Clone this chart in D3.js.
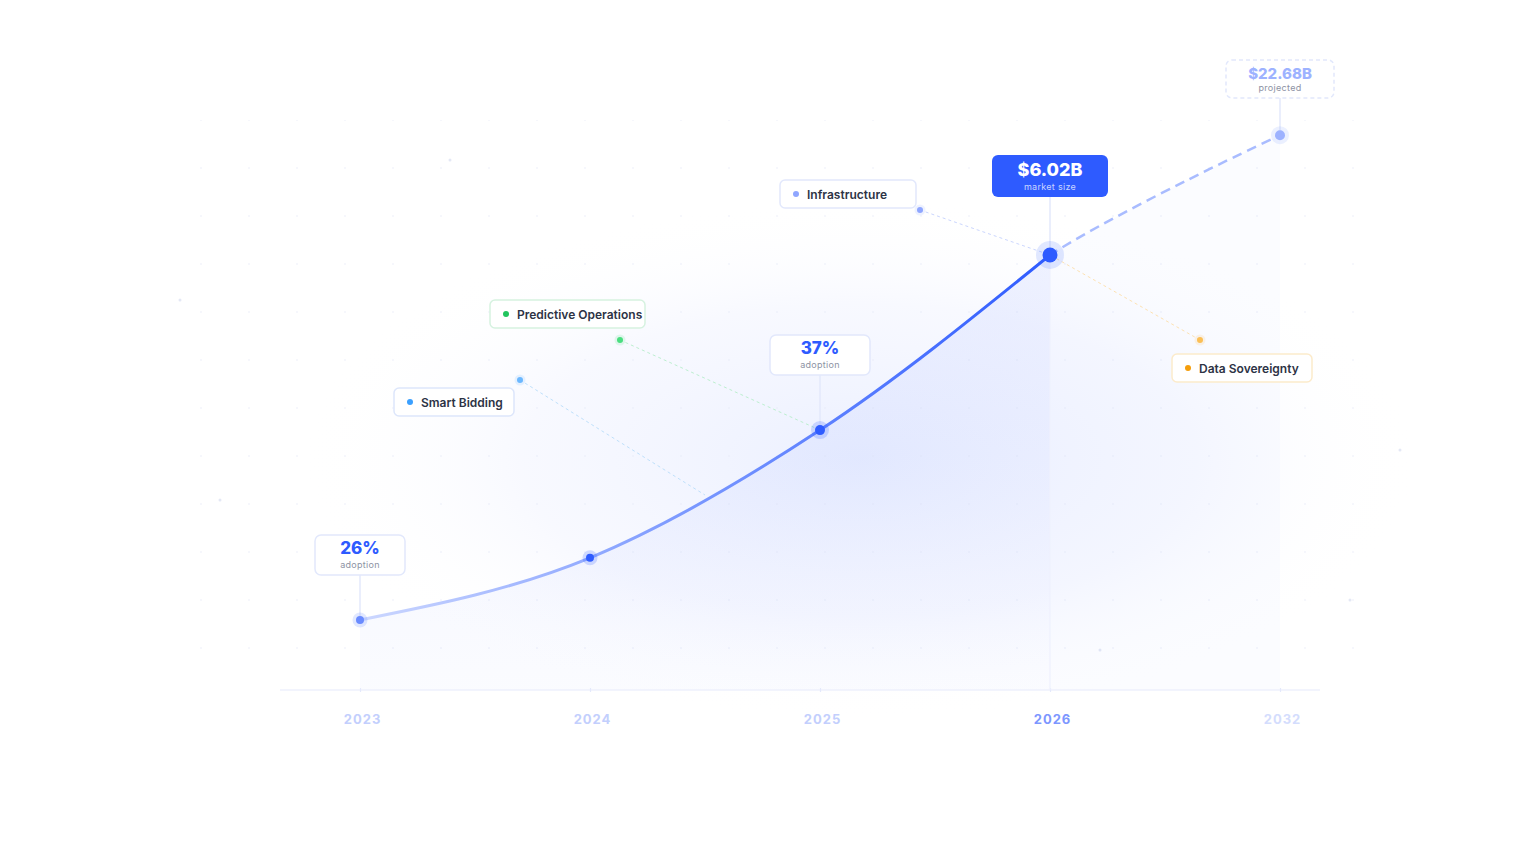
<!DOCTYPE html>
<html>
<head>
    <meta charset="UTF-8" />
    <title>AI market growth</title>
    <script src="https://d3js.org/d3.v7.min.js"></script>
    <style>
        html, body { margin: 0; padding: 0; background: #ffffff; }
        svg { display: block; font-family: Inter, "Noto Sans", sans-serif; }
        .tag-text { font-size: 12px; font-weight: 600; fill: #2d3345; }
        .year-label { font-size: 13px; font-weight: 700; letter-spacing: 1px; }
        .sub-text { font-size: 9px; letter-spacing: 0.3px; }
    </style>
</head>
<body>
    <svg id="svg" width="1536" height="864"></svg>

    <script>
        // data
        const years = ["2023", "2024", "2025", "2026", "2032"];
        const growthIndex = [12.4, 23.4, 46.0, 77.0, 98.2];   // relative height of the curve
        const yearColors = ["#c3cffd", "#c3cffd", "#c3cffd", "#7d97ff", "#d4ddfd"];

        // value badges sitting above points
        const badgeYears = ["2023", "2025", "2026", "2032"];
        const badgeValues = ["26%", "37%", "$6.02B", "$22.68B"];
        const badgeSubs = ["adoption", "adoption", "market size", "projected"];
        const badgeStyles = ["plain", "plain", "filled", "dashed"];

        // topic callouts and where they point on the curve (year position, fractional)
        const tagNames = ["Smart Bidding", "Predictive Operations", "Infrastructure", "Data Sovereignty"];
        const tagColors = ["#3ba0ff", "#22c55e", "#8fa6ff", "#f59e0b"];
        const tagTargets = [1.5, 2, 3, 3];

        // setting up svg
        const svg = d3.select("svg#svg");
        const width = +svg.attr("width");
        const height = +svg.attr("height");
        const margin = {top: 125, bottom: 174, left: 360, right: 256};
        const baseY = height - margin.bottom;

        const xScale = d3.scalePoint().domain(years).range([margin.left, width - margin.right]);
        const yScale = d3.scaleLinear().domain([0, 100]).range([baseY, margin.top]);
        const xIdx = d3.scaleLinear().domain([0, years.length - 1]).range([margin.left, width - margin.right]);

        const pts = years.map((y, i) => [xScale(y), yScale(growthIndex[i])]);
        const xNow = xScale("2026");
        const pastPts = pts.slice(0, 4);
        const futurePts = pts.slice(2);   // 2025 is only used to shape the projection, clipped away

        const defs = svg.append("defs");

        // background glow
        const glow = defs.append("radialGradient").attr("id", "glow")
            .attr("cx", "50%").attr("cy", "50%").attr("r", "50%");
        glow.append("stop").attr("offset", "0%").attr("stop-color", "#e9eeff").attr("stop-opacity", 0.9);
        glow.append("stop").attr("offset", "60%").attr("stop-color", "#f3f5ff").attr("stop-opacity", 0.6);
        glow.append("stop").attr("offset", "100%").attr("stop-color", "#ffffff").attr("stop-opacity", 0);
        svg.append("ellipse")
            .attr("cx", 860).attr("cy", 460).attr("rx", 560).attr("ry", 260)
            .attr("fill", "url(#glow)");

        // faint dot grid
        const pat = defs.append("pattern").attr("id", "dots")
            .attr("patternUnits", "userSpaceOnUse").attr("width", 48).attr("height", 48)
            .attr("x", 8).attr("y", 23);
        pat.append("circle").attr("cx", 1).attr("cy", 1).attr("r", 1).attr("fill", "#e6eaf6");
        svg.append("rect").attr("x", 160).attr("y", 120).attr("width", 1240).attr("height", 570)
            .attr("fill", "url(#dots)").attr("opacity", 0.5);

        // stray particles
        [[180, 300], [220, 500], [450, 160], [1400, 450], [1350, 600], [1100, 650]].forEach(p => {
            svg.append("circle").attr("cx", p[0]).attr("cy", p[1]).attr("r", 1.5)
                .attr("fill", "#e4e8f5");
        });

        // area gradients
        const areaGrad = defs.append("linearGradient").attr("id", "areaGrad")
            .attr("x1", 0).attr("y1", 0).attr("x2", 0).attr("y2", 1);
        areaGrad.append("stop").attr("offset", "0%").attr("stop-color", "#4d6fff").attr("stop-opacity", 0.09);
        areaGrad.append("stop").attr("offset", "100%").attr("stop-color", "#4d6fff").attr("stop-opacity", 0.025);

        const lineGrad = defs.append("linearGradient").attr("id", "lineGrad")
            .attr("gradientUnits", "userSpaceOnUse")
            .attr("x1", xScale("2023")).attr("x2", xNow).attr("y1", 0).attr("y2", 0);
        lineGrad.append("stop").attr("offset", "0%").attr("stop-color", "#cdd8ff");
        lineGrad.append("stop").attr("offset", "45%").attr("stop-color", "#7e9bff");
        lineGrad.append("stop").attr("offset", "100%").attr("stop-color", "#2e5bff");

        defs.append("clipPath").attr("id", "clipFuture").append("rect")
            .attr("x", xNow).attr("y", 0).attr("width", width - xNow).attr("height", height);

        const line = d3.line().curve(d3.curveMonotoneX);
        const area = d3.area().curve(d3.curveMonotoneX).y0(baseY);
        const projLine = d3.line().curve(d3.curveCatmullRom);
        const projArea = d3.area().curve(d3.curveCatmullRom).y0(baseY);

        svg.append("path").attr("d", area(pastPts)).attr("fill", "url(#areaGrad)");
        svg.append("path").attr("d", projArea(futurePts)).attr("fill", "#4d6fff").attr("opacity", 0.025)
            .attr("clip-path", "url(#clipFuture)");

        // baseline and ticks
        svg.append("line").attr("x1", 280).attr("x2", 1320).attr("y1", baseY).attr("y2", baseY)
            .attr("stroke", "#eef1fd").attr("stroke-width", 1.5);
        const axis = d3.axisBottom(xScale).tickSize(4).tickPadding(23).tickFormat(d => d);
        const axisG = svg.append("g").attr("transform", "translate(0," + (baseY - 2) + ")").call(axis);
        axisG.select(".domain").remove();
        axisG.selectAll(".tick line").attr("stroke", "#e4e9fb").attr("stroke-width", 1.2);
        axisG.selectAll(".tick text")
            .attr("class", "year-label")
            .attr("dx", 2)
            .attr("font-family", "Inter, sans-serif")
            .attr("fill", (d, i) => yearColors[i]);

        // vertical guide from the current year down to the baseline
        svg.append("line").attr("x1", xNow).attr("x2", xNow).attr("y1", pts[3][1]).attr("y2", baseY)
            .attr("stroke", "#eef1fd").attr("stroke-width", 1.2);

        // callout connectors
        const tagLayout = [
            {box: [394, 388, 120], anchor: [520, 380]},
            {box: [490, 300, 155], anchor: [620, 340]},
            {box: [780, 180, 136], anchor: [920, 210]},
            {box: [1172, 354, 140], anchor: [1200, 340]}
        ];
        const curvePath = svg.append("path").attr("d", line(pastPts)).attr("fill", "none").attr("stroke", "none");
        const pathNode = curvePath.node();
        function pointAtX(x) {
            let lo = 0, hi = pathNode.getTotalLength();
            for (let k = 0; k < 30; k++) {
                const mid = (lo + hi) / 2;
                if (pathNode.getPointAtLength(mid).x < x) lo = mid; else hi = mid;
            }
            const p = pathNode.getPointAtLength(lo);
            return [p.x, p.y];
        }
        const tagLight = ["#bfe0fb", "#bdefd0", "#cbd6fe", "#fde2b3"];
        const tagDot = ["#6cb8ff", "#4ade80", "#8fa6ff", "#fbbf55"];
        tagNames.forEach((name, i) => {
            const L = tagLayout[i];
            const target = pointAtX(xIdx(tagTargets[i]));
            const end = i === 0 ? [target[0], target[1] - 6] : target;
            svg.append("line")
                .attr("x1", L.anchor[0]).attr("y1", L.anchor[1])
                .attr("x2", end[0]).attr("y2", end[1])
                .attr("stroke", tagLight[i]).attr("stroke-width", 1)
                .attr("stroke-dasharray", "3 3");
            svg.append("circle").attr("cx", L.anchor[0]).attr("cy", L.anchor[1]).attr("r", 5.5)
                .attr("fill", tagDot[i]).attr("opacity", 0.15);
            svg.append("circle").attr("cx", L.anchor[0]).attr("cy", L.anchor[1]).attr("r", 3)
                .attr("fill", tagDot[i]);
        });

        // curve: solid past, dashed projection
        svg.append("path").attr("d", projLine(futurePts)).attr("fill", "none")
            .attr("stroke", "#a9bcff").attr("stroke-width", 2.5)
            .attr("stroke-dasharray", "10 6")
            .attr("clip-path", "url(#clipFuture)");
        svg.append("path").attr("d", line(pastPts)).attr("fill", "none")
            .attr("stroke", "url(#lineGrad)").attr("stroke-width", 3)
            .attr("stroke-linecap", "round");

        // badge stems
        const badgeLayout = {
            "2023": {w: 90, h: 40, top: 535},
            "2025": {w: 100, h: 40, top: 335},
            "2026": {w: 116, h: 42, top: 155},
            "2032": {w: 108, h: 38, top: 60}
        };
        badgeYears.forEach((y, i) => {
            const L = badgeLayout[y];
            const p = pts[years.indexOf(y)];
            svg.append("line").attr("x1", p[0]).attr("x2", p[0])
                .attr("y1", L.top + L.h).attr("y2", p[1])
                .attr("stroke", "#e3e8fb").attr("stroke-width", 1.5);
        });

        // points
        const pointR = [4, 4, 5, 7.5, 5];
        const haloR = [7.5, 7.5, 9, 14, 9];
        const pointFill = ["#6a8bff", "#2f5cff", "#2f5cff", "#2e5bff", "#9db2ff"];
        svg.selectAll("circle.halo").data(pts).join("circle")
            .attr("class", "halo")
            .attr("cx", d => d[0]).attr("cy", d => d[1])
            .attr("r", (d, i) => haloR[i])
            .attr("fill", (d, i) => pointFill[i])
            .attr("opacity", (d, i) => i === 3 ? 0.14 : 0.2);
        svg.selectAll("circle.pt").data(pts).join("circle")
            .attr("class", "pt")
            .attr("cx", d => d[0]).attr("cy", d => d[1])
            .attr("r", (d, i) => pointR[i])
            .attr("fill", (d, i) => pointFill[i]);

        // badges
        badgeYears.forEach((y, i) => {
            const L = badgeLayout[y];
            const cx = xScale(y);
            const style = badgeStyles[i];
            const g = svg.append("g");
            g.append("rect")
                .attr("x", cx - L.w / 2).attr("y", L.top)
                .attr("width", L.w).attr("height", L.h).attr("rx", 6)
                .attr("fill", style === "filled" ? "#2e5bff" : "#ffffff")
                .attr("stroke", style === "filled" ? "none" : "#e2e8fc")
                .attr("stroke-width", 1.5)
                .attr("stroke-dasharray", style === "dashed" ? "4 3" : null);
            g.append("text")
                .attr("x", cx).attr("y", L.top + (style === "filled" ? 21 : 19))
                .attr("text-anchor", "middle")
                .attr("font-weight", 800)
                .attr("font-size", style === "filled" ? 18 : (style === "dashed" ? 15 : 17))
                .attr("fill", style === "filled" ? "#ffffff" : (style === "dashed" ? "#9db2ff" : "#2e5bff"))
                .text(badgeValues[i]);
            g.append("text")
                .attr("class", "sub-text")
                .attr("x", cx).attr("y", L.h + L.top - 7)
                .attr("text-anchor", "middle")
                .attr("fill", style === "filled" ? "#c9d5ff" : "#8d92a3")
                .text(badgeSubs[i]);
        });

        // topic tags
        const tagBorder = ["#dde6fb", "#d6f2e0", "#e2e8fc", "#fcebcb"];
        tagNames.forEach((name, i) => {
            const L = tagLayout[i];
            const g = svg.append("g").attr("transform", "translate(" + L.box[0] + "," + L.box[1] + ")");
            g.append("rect").attr("width", L.box[2]).attr("height", 28).attr("rx", 5)
                .attr("fill", "#ffffff").attr("stroke", tagBorder[i]).attr("stroke-width", 1.5);
            g.append("circle").attr("cx", 16).attr("cy", 14).attr("r", 3).attr("fill", tagColors[i]);
            g.append("text").attr("class", "tag-text").attr("x", 27).attr("y", 18.5).text(name);
        });
    </script>
</body>
</html>
